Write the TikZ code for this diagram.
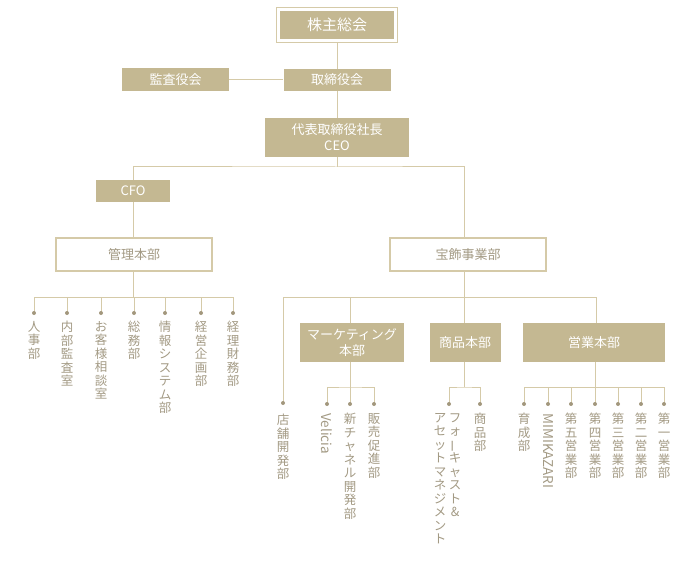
\documentclass[tikz,border=0pt]{standalone}
\usepackage{fontspec}
\setmainfont{Noto Sans CJK JP}
\usepackage{graphicx}
\definecolor{gold}{HTML}{C4B892}
\definecolor{goldline}{HTML}{D5CAA8}
\definecolor{goldtext}{HTML}{A39A84}
\definecolor{golddot}{HTML}{A2977D}
\newcommand{\chou}{\rotatebox[origin=c]{90}{ー}}
\tikzset{
  line/.style={draw=goldline, line width=1pt},
  darkbox/.style={fill=gold, text=white, align=center, inner sep=0pt,
    font=\fontsize{13}{16}\selectfont},
  lightbox/.style={draw=goldline, line width=1.2pt, fill=white, text=goldtext,
    inner sep=0pt, font=\fontsize{13}{16}\selectfont},
  leaf/.style={anchor=north, text=goldtext, align=center, inner sep=0pt,
    font=\fontsize{12.5}{13.5}\selectfont},
  leafrot/.style={anchor=west, rotate=-90, text=goldtext, inner sep=0pt,
    font=\fontsize{13.5}{14}\selectfont},
  leafdot/.style={fill=golddot}
}
\begin{document}
\begin{tikzpicture}[x=1pt,y=-1pt]
  \useasboundingbox (0,0) rectangle (700,561);

  % Top
  \node[darkbox, minimum width=114pt, minimum height=28pt,
    font=\fontsize{15}{18}\selectfont] (share) at (337,25) {株主総会};
  \draw[goldline, line width=1.2pt] ([shift={(-3pt,-3pt)}]share.south west)
    rectangle ([shift={(3pt,3pt)}]share.north east);
  \node[darkbox, minimum width=107pt, minimum height=22pt] (board) at (337,80) {取締役会};
  \node[darkbox, minimum width=107pt, minimum height=23pt] (audit) at (175.5,80) {監査役会};
  \node[darkbox, minimum width=144pt, minimum height=39pt] (ceo) at (337,137.5) {代表取締役社長\\CEO};
  \draw[line] ([yshift=-3pt]share.south) -- (board.north);
  \draw[line] (audit) -- (board);
  \draw[line] (board) -- (ceo);

  % Second level
  \coordinate (ceojoint) at (337,167);
  \coordinate (hbar) at (464,297);
  \node[darkbox, minimum width=74pt, minimum height=22pt] (cfo) at (133,191) {CFO};
  \node[lightbox, minimum width=156pt, minimum height=33pt] (kanri) at (134,254.5) {管理本部};
  \node[lightbox, minimum width=156pt, minimum height=33pt] (hoshoku) at (468,254.5) {宝飾事業部};
  \draw[line] (ceo.south) -- (ceojoint);
  \draw[line] (cfo.north) |- (ceojoint) -| (hoshoku.north -| hbar);
  \draw[line] (cfo) -- (cfo |- kanri.north);

  % Kanri leaves
  \coordinate (kbar) at (133,297);
  \draw[line] (kanri.south -| kbar) -- (kbar);
  \foreach \x/\n/\t in {34/k1/{人\\事\\部}, 67/k2/{内\\部\\監\\査\\室},
      101/k3/{お\\客\\様\\相\\談\\室}, 134/k4/{総\\務\\部},
      165/k5/{情\\報\\シ\\ス\\テ\\ム\\部}, 201/k6/{経\\営\\企\\画\\部},
      233/k7/{経\\理\\財\\務\\部}} {
    \coordinate (\n dot) at (\x,313);
    \node[leaf] (\n) at (\x,321) {\t};
    \draw[line] (\x,297) -- (\n dot);
    \fill[leafdot] (\n dot) circle (2pt);
  }
  \draw[line] (k1dot |- kbar) -- (k7dot |- kbar);

  % Hoshoku sub boxes
  \node[darkbox, minimum width=104pt, minimum height=39pt] (mkt) at (352,342.5) {マーケティング\\本部};
  \node[darkbox, minimum width=71pt, minimum height=39pt] (shohin) at (465,342.5) {商品本部};
  \node[darkbox, minimum width=142pt, minimum height=39pt] (eigyo) at (594,342.5) {営業本部};
  \coordinate (tenpodot) at (283,403);
  \coordinate (mjoint) at (350,297);
  \coordinate (ejoint) at (596,297);
  \node[leaf] (tenpo) at (283,414) {店\\舗\\開\\発\\部};
  \draw[line] (hoshoku.south -| hbar) -- (shohin.north -| hbar);
  \draw[line] (tenpodot) |- (ejoint) -- (ejoint |- eigyo.north);
  \draw[line] (mjoint) -- (mjoint |- mkt.north);
  \fill[leafdot] (tenpodot) circle (2pt);

  % Marketing leaves
  \coordinate (mbar) at (350,387);
  \draw[line] (mkt.south -| mbar) -- (mbar);
  \coordinate (m1dot) at (327,404);
  \coordinate (m2dot) at (350,404);
  \coordinate (m3dot) at (374,404);
  \node[leafrot] (m1) at (327,413) {Velicia};
  \node[leaf] (m2) at (350,413) {新\\チ\\ャ\\ネ\\ル\\開\\発\\部};
  \node[leaf] (m3) at (374,413) {販\\売\\促\\進\\部};
  \draw[line] (m1dot) |- (mbar) -| (m3dot);
  \draw[line] (mbar) -- (m2dot);
  \foreach \n in {m1,m2,m3} \fill[leafdot] (\n dot) circle (2pt);

  % Shohin leaves
  \coordinate (sbar) at (464,387);
  \draw[line] (shohin.south -| sbar) -- (sbar);
  \coordinate (s1dot) at (449,404);
  \coordinate (s2dot) at (480,404);
  \node[leaf] (s1a) at (455,413) {フ\\ォ\\\chou\\キ\\ャ\\ス\\ト\\\&};
  \node[leaf] (s1b) at (440,413) {ア\\セ\\ッ\\ト\\マ\\ネ\\ジ\\メ\\ン\\ト};
  \node[leaf] (s2) at (480,413) {商\\品\\部};
  \draw[line] (s1dot) |- (sbar) -| (s2dot);
  \foreach \n in {s1,s2} \fill[leafdot] (\n dot) circle (2pt);

  % Eigyo leaves
  \coordinate (ebar) at (595,387);
  \draw[line] (eigyo.south -| ebar) -- (ebar);
  \foreach \x/\n/\t in {524/e1/{育\\成\\部}, 571/e3/{第\\五\\営\\業\\部},
      595/e4/{第\\四\\営\\業\\部}, 618/e5/{第\\三\\営\\業\\部},
      641/e6/{第\\二\\営\\業\\部}, 664/e7/{第\\一\\営\\業\\部}} {
    \coordinate (\n dot) at (\x,404);
    \node[leaf] (\n) at (\x,413) {\t};
    \draw[line] (\x,387) -- (\n dot);
    \fill[leafdot] (\n dot) circle (2pt);
  }
  \coordinate (e2dot) at (548,404);
  \node[leafrot] (e2) at (548,413) {MIMIKAZARI};
  \draw[line] (548,387) -- (e2dot);
  \fill[leafdot] (e2dot) circle (2pt);
  \draw[line] (e1dot |- ebar) -- (e7dot |- ebar);
\end{tikzpicture}
\end{document}
